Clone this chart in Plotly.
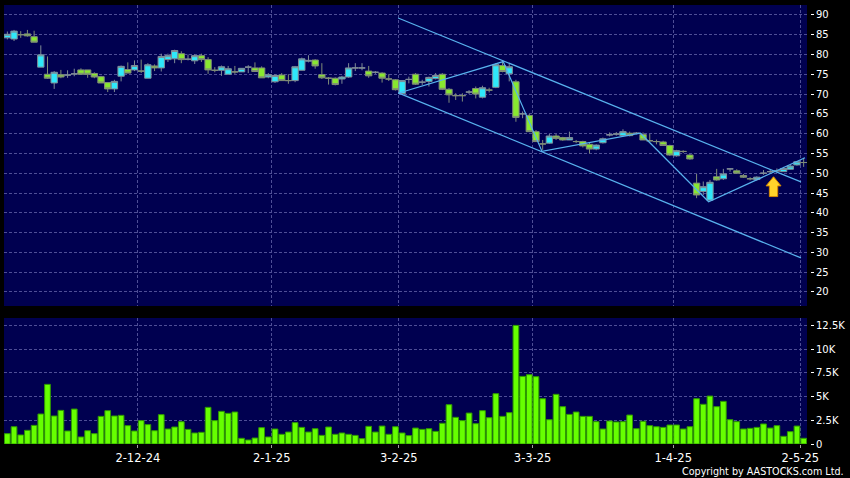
import pandas as pd
import plotly.graph_objects as go

# ---------------- data ----------------
holidays = ["2024-12-25", "2024-12-26", "2025-01-01", "2025-01-29", "2025-01-30",
            "2025-01-31", "2025-04-04", "2025-04-18", "2025-04-21", "2025-05-01"]
dates = [d.strftime("%Y-%m-%d") for d in pd.bdate_range("2024-11-04", "2025-05-02")
         if d.strftime("%Y-%m-%d") not in holidays]

opens = [84.2, 83.9, 85.0, 85.2, 84.5, 76.8, 75.0, 72.8, 74.9, 74.8,
         75.1, 76.1, 76.1, 75.2, 74.4, 72.9, 71.3, 74.5, 76.2, 76.1,
         75.8, 74.0, 77.1, 76.6, 78.7, 78.9, 80.2, 78.8, 78.4, 79.7,
         78.7, 76.0, 76.0, 75.0, 75.6, 75.6, 76.8, 76.6, 76.6, 74.3,
         73.1, 74.8, 73.4, 73.4, 76.0, 78.3, 78.6, 74.9, 74.0, 74.0,
         73.8, 74.3, 76.6, 76.6, 75.8, 75.5, 75.3, 73.8, 73.6, 70.1,
         73.7, 75.0, 73.0, 73.2, 73.9, 75.0, 71.2, 69.6, 69.6, 70.5,
         71.4, 69.2, 71.0, 71.7, 77.2, 75.1, 73.1, 65.0, 64.6, 60.5,
         57.4, 57.6, 59.4, 59.0, 58.4, 58.0, 58.0, 57.3, 56.1, 57.7,
         59.7, 59.9, 59.5, 60.1, 60.1, 59.8, 58.2, 58.0, 57.9, 57.0,
         54.4, 55.5, 54.6, 47.5, 45.4, 43.2, 49.1, 48.6, 51.1, 50.6,
         49.4, 48.6, 48.4, 50.0, 50.4, 50.6, 50.4, 51.0, 52.1, 52.7]
highs = [85.8, 86.2, 85.9, 86.2, 86.0, 82.3, 79.5, 75.8, 76.1, 76.0,
         76.4, 76.5, 76.1, 75.5, 74.6, 72.9, 73.6, 77.2, 78.0, 78.5,
         78.7, 77.8, 77.5, 80.2, 80.2, 81.2, 80.8, 80.0, 80.0, 80.2,
         79.3, 76.8, 77.2, 77.1, 77.1, 76.5, 77.3, 78.0, 77.0, 75.3,
         75.0, 75.3, 75.0, 77.1, 79.2, 79.8, 78.8, 77.8, 74.3, 74.2,
         74.6, 77.8, 77.8, 77.8, 77.1, 75.8, 75.5, 75.0, 73.8, 73.4,
         74.4, 75.3, 73.6, 74.4, 75.3, 75.3, 71.5, 70.2, 70.2, 71.0,
         71.9, 72.1, 71.6, 77.8, 78.5, 77.8, 73.6, 65.6, 65.0, 60.9,
         58.4, 59.9, 59.9, 59.2, 60.5, 58.4, 58.2, 57.7, 57.3, 59.0,
         60.3, 60.4, 61.1, 60.5, 60.4, 60.3, 59.9, 58.5, 58.2, 57.2,
         55.9, 55.8, 54.8, 49.8, 47.9, 48.3, 51.1, 51.1, 51.3, 51.0,
         49.8, 49.0, 49.2, 50.8, 51.0, 51.2, 51.6, 52.1, 53.1, 53.9]
lows = [83.8, 83.4, 84.2, 84.5, 83.1, 76.8, 73.8, 71.3, 74.0, 74.1,
        74.5, 75.0, 74.1, 74.0, 72.8, 70.5, 70.5, 73.2, 75.3, 75.8,
        75.3, 74.0, 75.8, 75.7, 78.1, 77.8, 77.8, 78.5, 77.6, 78.1,
        75.1, 75.5, 74.6, 75.0, 75.1, 75.6, 75.3, 75.7, 74.1, 74.0,
        72.8, 73.3, 72.6, 73.0, 76.0, 78.0, 76.4, 73.8, 72.4, 72.2,
        72.6, 74.1, 75.8, 76.0, 74.1, 75.1, 72.9, 73.3, 70.9, 69.9,
        72.7, 72.3, 72.3, 71.9, 73.7, 71.0, 67.8, 68.5, 68.1, 70.0,
        68.9, 68.9, 70.4, 71.5, 75.5, 73.2, 63.0, 63.9, 60.4, 58.0,
        55.9, 57.4, 58.4, 58.2, 58.4, 57.6, 56.5, 55.0, 55.8, 57.5,
        59.3, 59.5, 59.3, 59.3, 59.8, 58.4, 58.0, 57.3, 56.9, 54.4,
        54.2, 55.1, 53.4, 43.7, 44.5, 43.2, 48.1, 48.3, 50.4, 49.9,
        48.8, 48.2, 48.1, 49.6, 50.0, 50.2, 50.3, 50.9, 51.9, 51.6]
closes = [85.1, 85.9, 85.0, 84.7, 83.1, 79.9, 74.0, 75.5, 74.3, 74.8,
          75.1, 75.0, 75.0, 74.3, 72.8, 71.3, 73.2, 77.0, 75.3, 77.2,
          75.8, 77.4, 76.6, 79.5, 79.7, 81.0, 78.7, 78.8, 79.7, 78.7,
          76.1, 76.0, 76.9, 76.4, 75.6, 76.5, 76.8, 75.7, 74.1, 74.9,
          74.7, 73.4, 73.4, 76.9, 78.9, 78.5, 77.1, 74.1, 74.0, 72.4,
          74.3, 76.6, 76.6, 76.6, 74.6, 75.5, 74.0, 73.8, 71.1, 73.4,
          73.7, 72.5, 73.0, 74.2, 74.7, 71.2, 69.8, 69.6, 69.6, 70.5,
          70.0, 71.6, 71.0, 77.4, 75.7, 76.9, 64.1, 65.0, 60.5, 58.0,
          57.4, 59.4, 58.8, 58.4, 59.0, 58.0, 56.9, 56.1, 57.1, 58.7,
          59.7, 59.9, 60.5, 59.5, 60.1, 58.4, 58.2, 58.0, 57.0, 54.6,
          55.7, 55.5, 53.6, 44.5, 46.6, 47.7, 48.3, 49.8, 51.1, 50.0,
          49.0, 48.6, 49.0, 50.0, 50.4, 50.6, 51.2, 51.8, 52.9, 52.7]
volumes = [1090, 1820, 950, 1440, 1960, 3160, 6280, 2950, 3540, 1370,
           3680, 740, 1400, 1090, 2910, 3510, 2950, 3020, 1930, 1370,
           2460, 2040, 1400, 3090, 1580, 1790, 2350, 1540, 1160, 1230,
           3860, 2460, 3440, 3230, 3370, 600, 420, 630, 1720, 740,
           1580, 1020, 1260, 2250, 1750, 1260, 1610, 910, 1790, 1020,
           1160, 1020, 910, 560, 1860, 1260, 1890, 1020, 1820, 1160,
           880, 1680, 1540, 1610, 1330, 2180, 4140, 2810, 2460, 3260,
           2140, 3510, 2770, 5300, 2910, 3300, 12490, 7120, 7300, 7090,
           4770, 2560, 5230, 3930, 3120, 3370, 2910, 2910, 2350, 1580,
           2420, 2320, 2350, 3050, 1610, 2390, 1930, 1820, 1750, 2000,
           2000, 1580, 1820, 4770, 4180, 5050, 3930, 4490, 2560, 2350,
           1580, 1650, 1750, 2110, 1680, 1930, 810, 1300, 1890, 600]

tick_dates = ["2024-12-02", "2025-01-02", "2025-02-03", "2025-03-03", "2025-04-01", "2025-05-02"]
tick_labels = ["2-12-24", "2-1-25", "3-2-25", "3-3-25", "1-4-25", "2-5-25"]
price_ticks = [20, 25, 30, 35, 40, 45, 50, 55, 60, 65, 70, 75, 80, 85, 90]
vol_ticks = [0, 2500, 5000, 7500, 10000, 12500]
vol_tick_labels = ["0", "2.5K", "5K", "7.5K", "10K", "12.5K"]

# user-drawn trend lines (bar index, price)
channel_upper_x = [58.4, 118.6]
channel_upper_y = [89.2, 47.8]
channel_lower_x = [58.4, 118.6]
channel_lower_y = [70.3, 28.6]
zigzag_x = [58.4, 74.1, 79.9, 94.6, 104.8, 119.2]
zigzag_y = [70.2, 78.2, 55.5, 60.1, 42.8, 53.9]
arrow_idx = 114.5
arrow_tip = 49.1
arrow_neck = 46.8
arrow_base = 44.1

# ---------------- figure ----------------
idx = list(range(len(dates)))
tickvals = [dates.index(d) - 0.5 for d in tick_dates]

W, H = 850, 478
BG = "#000050"
GRID = "#4E4E96"
FONT = "DejaVu Sans"

fig = go.Figure()

fig.add_trace(go.Candlestick(
    x=idx, open=opens, high=highs, low=lows, close=closes, text=dates,
    increasing=dict(line=dict(color="#7F8C96", width=1), fillcolor="#2FE8FA"),
    decreasing=dict(line=dict(color="#7F8C78", width=1), fillcolor="#88E830"),
    whiskerwidth=0, xaxis="x", yaxis="y", showlegend=False))

line_style = dict(color="#58B2EE", width=1.2)
fig.add_trace(go.Scatter(x=channel_upper_x, y=channel_upper_y, mode="lines",
                         line=line_style, xaxis="x", yaxis="y", showlegend=False, hoverinfo="skip"))
fig.add_trace(go.Scatter(x=channel_lower_x, y=channel_lower_y, mode="lines",
                         line=line_style, xaxis="x", yaxis="y", showlegend=False, hoverinfo="skip"))
fig.add_trace(go.Scatter(x=zigzag_x, y=zigzag_y, mode="lines",
                         line=line_style, xaxis="x", yaxis="y", showlegend=False, hoverinfo="skip"))

# block arrow built around its anchor
hw, sw = 1.12, 0.62
ax = [arrow_idx, arrow_idx + hw, arrow_idx + sw, arrow_idx + sw,
      arrow_idx - sw, arrow_idx - sw, arrow_idx - hw, arrow_idx]
ay = [arrow_tip, arrow_neck, arrow_neck, arrow_base,
      arrow_base, arrow_neck, arrow_neck, arrow_tip]
fig.add_trace(go.Scatter(x=ax, y=ay, mode="lines", fill="toself", fillcolor="#FFD42A",
                         line=dict(color="#D88A00", width=1), xaxis="x", yaxis="y",
                         showlegend=False, hoverinfo="skip"))

fig.add_trace(go.Bar(x=idx, y=volumes, text=dates, textposition="none",
                     marker=dict(color="#66FF00", line=dict(color="#2F9A00", width=1)),
                     xaxis="x2", yaxis="y2", showlegend=False))

xdom = [4 / W, 807 / W]
xcommon = dict(domain=xdom, range=[-0.5, len(dates) - 0.5], tickvals=tickvals,
               showgrid=True, gridcolor=GRID, gridwidth=1, griddash="3px,2px",
               zeroline=False, showline=False, automargin=False, fixedrange=True)
ycommon = dict(side="right", anchor="free", position=810 / W, ticks="outside", ticklen=3,
               tickcolor="#FFFFFF", tickwidth=1, showgrid=True, gridcolor=GRID, gridwidth=1,
               griddash="3px,2px", zeroline=False, showline=False, automargin=False,
               tickfont=dict(family=FONT, size=10, color="#FFFFFF"), fixedrange=True)

fig.update_layout(
    width=W, height=H, template="none",
    paper_bgcolor="#000000", plot_bgcolor=BG,
    margin=dict(l=0, r=0, t=0, b=0),
    boxgap=0.05, boxgroupgap=0.0, bargap=0.15,
    xaxis=dict(**xcommon, showticklabels=False, ticks="", anchor="y",
               rangeslider=dict(visible=False)),
    xaxis2=dict(**xcommon, ticktext=tick_labels, showticklabels=True, ticks="outside",
                ticklen=3, tickcolor="#A0A0A0", anchor="y2",
                tickfont=dict(family=FONT, size=11.5, color="#FFFFFF")),
    yaxis=dict(**ycommon, domain=[1 - 306 / H, 1 - 5 / H], range=[16.45, 92.5],
               tickvals=price_ticks),
    yaxis2=dict(**ycommon, domain=[1 - 444 / H, 1 - 318 / H], range=[0, 13270],
                tickvals=vol_ticks, ticktext=vol_tick_labels),
    annotations=[dict(text="Copyright by AASTOCKS.com Ltd.", xref="paper", yref="paper",
                      x=846 / W, y=1 - 471 / H, xanchor="right", yanchor="middle",
                      showarrow=False, font=dict(family=FONT, size=9.6, color="#FFFFFF"))],
)

fig.write_html("out.html", config={"displayModeBar": False},
               post_script="document.body.style.margin='0';document.body.style.background='#000';")
